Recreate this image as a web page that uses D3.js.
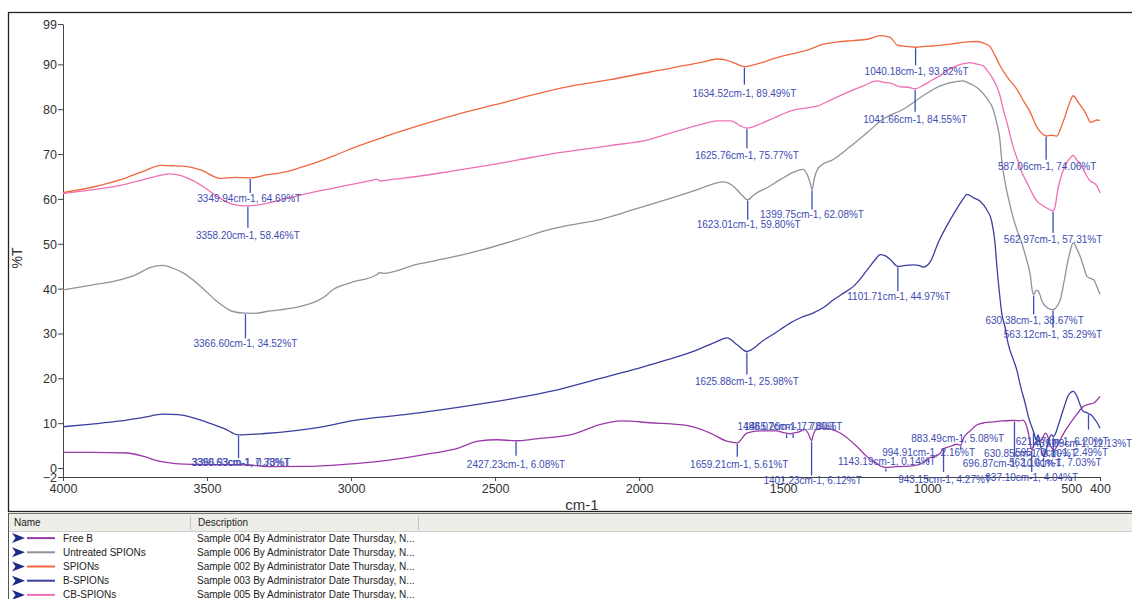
<!DOCTYPE html>
<html>
<head>
<meta charset="utf-8">
<script src="https://cdn.jsdelivr.net/npm/d3@7"></script>
<style>
  html, body { margin: 0; padding: 0; background: #fff; overflow: hidden; }
  svg { display: block; }
</style>
</head>
<body>
<svg id="chart" width="1132" height="599"></svg>
<script>
// FTIR transmittance spectra, wavenumber (cm-1) vs %T
const seriesNames = ["Free B", "Untreated SPIONs", "SPIONs", "B-SPIONs", "CB-SPIONs"];
const seriesDescriptions = [
  "Sample 004 By Administrator Date Thursday, N...",
  "Sample 006 By Administrator Date Thursday, N...",
  "Sample 002 By Administrator Date Thursday, N...",
  "Sample 003 By Administrator Date Thursday, N...",
  "Sample 005 By Administrator Date Thursday, N..."
];
const seriesColors = ["#9a3aa8", "#8e939c", "#f0683e", "#3b3f9f", "#f070b6"];

const xTicks = [4000, 3500, 3000, 2500, 2000, 1500, 1000, 500, 400];
const yTicks = [-2, 0, 10, 20, 30, 40, 50, 60, 70, 80, 90, 99];

// [wavenumber, %T]
const freeB = [[4000,3.5],[3900,3.5],[3780,3.35],[3720,2.6],[3687,1.9],[3635,1.2],[3556,0.8],[3480,0.75],[3420,0.74],[3366.93,0.73],[3288,0.3],[3155,0.35],[3024,0.8],[2889,1.6],[2757,2.9],[2625,4.5],[2559,6.0],[2491,6.3],[2427.23,6.08],[2358,6.5],[2226,7.6],[2140,9.6],[2060,10.5],[1962,10.1],[1847,9.6],[1753,7.8],[1696,6.0],[1659.21,5.61],[1626,7.8],[1580,8.3],[1522,8.3],[1499,7.9],[1488.07,7.78],[1475,7.6],[1465.26,7.80],[1447,8.0],[1424,8.6],[1412,7.6],[1401.23,6.12],[1395,7.5],[1387,8.5],[1359,8.9],[1302,7.8],[1244,4.8],[1210,2.6],[1175,1.0],[1160,0.4],[1143.19,0.14],[1110,0.3],[1080,0.35],[1050,0.5],[1020,1.0],[1005,1.6],[994.91,2.16],[975,2.6],[955,3.3],[943.15,4.27],[920,4.8],[897,5.3],[883.49,5.08],[875,6.5],[850,8.3],[828,9.6],[800,10.1],[771,10.3],[740,10.5],[712,10.6],[696.87,10.61],[680,10.5],[667,10.7],[660,10.2],[650,8.2],[643,5.8],[637.10,4.04],[630,5.0],[620,5.9],[610,6.0],[602,6.3],[590,7.8],[582,7.2],[576,5.5],[565,4.3],[559,4.0],[550,4.8],[538,6.3],[520,8.4],[503,10.0],[480,12.0],[458,13.7],[440,14.2],[422,14.5],[410,15.2],[400,16.0]];

const untreated = [[4000,39.7],[3900,40.8],[3800,42.0],[3750,43.0],[3698,44.7],[3653,45.2],[3620,44.6],[3583,43.5],[3524,40.6],[3466,37.2],[3410,34.9],[3366.60,34.52],[3330,34.5],[3293,34.9],[3201,35.7],[3150,36.5],[3119,37.2],[3090,38.3],[3062,39.8],[3003,41.3],[2911,43.1],[2900,43.6],[2889,43.4],[2772,45.4],[2650,47.0],[2542,48.7],[2420,51.0],[2309,53.2],[2220,54.4],[2135,55.4],[2020,57.6],[1903,59.9],[1800,62.0],[1708,63.8],[1674,62.9],[1645,61.0],[1623.01,59.80],[1600,61.0],[1556,62.5],[1510,64.3],[1465,65.9],[1431,66.6],[1415,65.2],[1406,63.5],[1399.75,62.08],[1392,64.5],[1385,66.0],[1372,67.3],[1326,68.8],[1270,71.5],[1208,74.8],[1153,77.8],[1083,80.0],[1014,83.0],[955,85.2],[896,86.2],[875,86.3],[861,86.0],[826,84.8],[792,82.4],[771,80.0],[757,76.5],[748,73.5],[741,68.5],[729,63.5],[712,58.5],[700,55.5],[685,52.5],[671,50.0],[655,46.5],[642,43.0],[635,39.5],[630.38,38.67],[622,39.6],[615,39.5],[600,37.0],[580,35.6],[563.12,35.29],[550,36.0],[538,37.5],[525,41.5],[515,45.0],[503,48.5],[493,50.2],[480,48.8],[469,47.2],[455,44.5],[446,42.8],[430,42.2],[422,42.0],[410,40.3],[400,38.7]];

const spions = [[4000,61.4],[3900,62.6],[3800,64.3],[3720,66.2],[3660,67.5],[3620,67.4],[3583,67.3],[3520,66.4],[3455,64.6],[3400,64.8],[3349.94,64.69],[3290,65.4],[3236,65.9],[3180,66.9],[3118,68.2],[3060,69.6],[3003,71.1],[2900,73.5],[2750,76.6],[2600,79.4],[2500,81.0],[2400,82.7],[2250,85.0],[2100,86.6],[1962,88.3],[1900,89.0],[1847,89.7],[1780,90.5],[1729,91.2],[1700,91.0],[1677,90.5],[1655,89.9],[1634.52,89.49],[1610,89.8],[1590,90.1],[1545,91.0],[1500,91.9],[1450,92.6],[1406,93.4],[1361,94.5],[1312,95.0],[1260,95.3],[1208,95.6],[1163,96.4],[1128,96.0],[1104,94.3],[1075,94.0],[1040.18,93.82],[1010,94.0],[979,94.1],[920,94.5],[861,95.0],[830,95.1],[806,94.8],[781,93.9],[765,92.0],[747,89.7],[720,87.0],[689,84.5],[665,81.8],[642,79.3],[619,76.0],[600,74.5],[587.06,74.06],[570,74.2],[550,74.0],[535,76.0],[521,78.5],[505,81.5],[493,83.0],[480,82.0],[470,81.0],[458,80.0],[445,78.5],[434,77.1],[422,77.3],[411,77.6],[400,77.5]];

const bSpions = [[4000,9.2],[3900,9.8],[3800,10.5],[3720,11.3],[3653,12.0],[3600,11.9],[3560,11.4],[3500,10.2],[3440,8.8],[3390.63,7.38],[3300,7.7],[3200,8.3],[3100,9.2],[3000,10.5],[2800,12.0],[2600,13.8],[2500,14.8],[2400,15.9],[2300,17.2],[2135,20.0],[2000,22.3],[1904,24.1],[1800,26.3],[1730,28.2],[1695,29.0],[1660,27.5],[1625.88,25.98],[1600,26.8],[1580,27.9],[1530,30.0],[1476,32.3],[1440,33.5],[1395,34.6],[1360,35.8],[1325,37.5],[1290,39.0],[1256,40.5],[1210,44.0],[1180,46.5],[1163,47.6],[1145,47.3],[1128,46.5],[1101.71,44.97],[1075,45.2],[1048,45.3],[1030,45.2],[1014,44.8],[990,45.9],[960,50.5],[932,54.0],[900,57.5],[875,60.0],[862,61.0],[840,60.3],[816,59.5],[793,57.6],[776,55.0],[765,50.5],[758,45.0],[749,39.0],[741,34.5],[730,31.5],[718,27.5],[700,24.0],[689,21.9],[675,18.0],[660,14.5],[648,11.3],[637,9.2],[630.85,8.10],[627,7.3],[621.37,6.20],[615,7.4],[608,5.5],[595.70,2.49],[585,4.5],[575,6.8],[568,7.4],[562.10,7.03],[555,7.6],[545,9.5],[525,13.5],[510,16.2],[493,17.1],[480,16.0],[470,14.3],[458,12.6],[448,12.4],[439.89,12.13],[430,11.8],[422,11.2],[411,10.2],[400,8.9]];

const cbSpions = [[4000,61.2],[3900,62.0],[3800,63.0],[3698,64.7],[3628,65.6],[3590,65.2],[3559,64.4],[3510,62.6],[3466,60.6],[3410,58.8],[3358.20,58.46],[3300,58.9],[3236,59.9],[3180,60.8],[3118,61.7],[3060,62.4],[3003,63.2],[2924,64.2],[2910,64.4],[2899,64.0],[2850,64.4],[2771,65.0],[2650,66.2],[2542,67.3],[2420,68.7],[2309,70.0],[2200,71.0],[2100,71.9],[1962,73.3],[1900,74.5],[1847,75.5],[1790,76.5],[1729,77.4],[1680,77.4],[1649,76.3],[1625.76,75.77],[1600,76.2],[1580,76.7],[1530,78.1],[1476,79.6],[1430,80.2],[1382,80.7],[1330,82.2],[1278,83.7],[1222,85.2],[1174,86.3],[1150,86.0],[1128,85.8],[1094,85.0],[1065,84.9],[1041.66,84.55],[1014,85.3],[985,86.4],[955,87.5],[925,88.8],[896,89.7],[870,90.2],[851,90.4],[830,90.1],[806,89.7],[790,88.5],[771,86.7],[755,84.5],[747,83.0],[736,80.0],[723,77.0],[701,71.5],[685,68.5],[671,65.9],[655,63.8],[642,62.1],[619,59.5],[600,58.6],[580,57.8],[562.97,57.31],[555,58.5],[548,61.5],[535,65.0],[515,68.1],[500,69.4],[493,69.7],[480,68.6],[470,68.0],[458,66.6],[445,65.0],[434,64.0],[422,63.6],[411,62.9],[400,61.3]];

const seriesData = [freeB, untreated, spions, bSpions, cbSpions];

// picked peaks: [series index, wavenumber, %T]
const peaks = [
  [2, 3349.94, 64.69], [4, 3358.20, 58.46], [1, 3366.60, 34.52],
  [2, 1634.52, 89.49], [2, 1040.18, 93.82], [4, 1041.66, 84.55],
  [4, 1625.76, 75.77], [1, 1623.01, 59.80], [1, 1399.75, 62.08],
  [3, 1625.88, 25.98], [3, 1101.71, 44.97], [2, 587.06, 74.06],
  [4, 562.97, 57.31], [1, 630.38, 38.67], [1, 563.12, 35.29],
  [0, 2427.23, 6.08], [3, 3390.63, 7.38], [0, 3366.93, 0.73],
  [0, 1659.21, 5.61], [0, 1401.23, 6.12], [0, 1488.07, 7.78],
  [0, 1465.26, 7.80], [0, 1143.19, 0.14], [0, 994.91, 2.16],
  [0, 943.15, 4.27], [0, 883.49, 5.08], [0, 696.87, 10.61],
  [0, 637.10, 4.04], [3, 630.85, 8.10], [3, 621.37, 6.20],
  [3, 595.70, 2.49], [3, 562.10, 7.03], [3, 439.89, 12.13]
];
// marker line length, label x shift, label y shift (px), one per peak
const peakPlacement = [
  [15, -1, 21], [22, 0, 30], [25, 0, 30],
  [18, 0, 26.6], [18, 1, 24.5], [23, 0, 30.5],
  [20, 0, 27], [20, 1, 25], [20, 0, 25],
  [23, 0, 29.5], [25, 1, 30], [24, 1, 31],
  [22, 0, 29], [20, 1, 25.5], [18, 0, 24.5],
  [15, 0, 24], [23, 2, 28], [0, -4, -2],
  [14, 2, 22], [35, 1, 40], [5, 0, -6.5],
  [5, 0, -6.5], [4, 1, -5.5], [4, 0, -5.7],
  [23, 1, 30.8], [4, -3, -7], [37, -2.5, 42.6],
  [22, 0, 28], [16, -3, 21.3], [3, 26, 1.5],
  [3, 18, -4], [21, 2, 26.5], [16, -5.5, 29.4]
];

const svg = d3.select("#chart");
const x = d3.scaleLinear().domain([4000, 400]).range([63, 1100]);
const y = d3.scaleLinear().domain([-2, 99]).range([477, 24]);

// panel frame
svg.append("rect").attr("x", 8.5).attr("y", 12.5).attr("width", 1140).attr("height", 499)
  .attr("fill", "#fff").attr("stroke", "#222").attr("stroke-width", 1.3);

// axes
const axisFont = "Liberation Sans, Arial, sans-serif";
const gy = svg.append("g").attr("transform", "translate(63,0)")
  .call(d3.axisLeft(y).tickValues(yTicks).tickFormat(d3.format("d"))
    .tickSize(5).tickPadding(1).tickSizeOuter(0));
const gx = svg.append("g").attr("transform", "translate(0,477)")
  .call(d3.axisBottom(x).tickValues(xTicks).tickFormat(d3.format("d"))
    .tickSize(4).tickPadding(3).tickSizeOuter(0));
[gx, gy].forEach(g => {
  g.selectAll("path, line").attr("stroke", "#444");
  g.selectAll("text").attr("fill", "#333").style("font-family", axisFont).style("font-size", "12.5px");
});
gy.selectAll(".tick text").attr("dy", "0.36em");

svg.append("text").attr("transform", "translate(22,258) rotate(-90)")
  .attr("text-anchor", "middle").attr("fill", "#333")
  .style("font-family", axisFont).style("font-size", "14px").text("%T");
svg.append("text").attr("x", 582).attr("y", 510)
  .attr("text-anchor", "middle").attr("fill", "#333")
  .style("font-family", axisFont).style("font-size", "15px").text("cm-1");

// spectra
const line = d3.line().x(d => x(d[0])).y(d => y(d[1])).curve(d3.curveMonotoneX);
svg.append("g").selectAll("path").data(seriesData).join("path")
  .attr("d", line).attr("fill", "none")
  .attr("stroke", (d, i) => seriesColors[i]).attr("stroke-width", 1.3)
  .attr("stroke-linejoin", "round");

// peak markers and labels
const peakColor = "#3e4cb3";
const pg = svg.append("g");
peaks.forEach((p, i) => {
  const [len, dx, dy] = peakPlacement[i];
  const px = x(p[1]), py = y(p[2]);
  if (len > 0) {
    pg.append("line").attr("x1", px).attr("x2", px).attr("y1", py + 1).attr("y2", py + len)
      .attr("stroke", peakColor).attr("stroke-width", 1.3);
  }
  pg.append("text").attr("x", px + dx).attr("y", py + dy)
    .attr("text-anchor", "middle").attr("dominant-baseline", "central")
    .attr("fill", peakColor)
    .style("font-family", axisFont).style("font-size", "10px")
    .text(`${p[1].toFixed(2)}cm-1, ${p[2].toFixed(2)}%T`);
});

// sample list below the plot
const list = svg.append("g");
list.append("rect").attr("x", 0).attr("y", 513).attr("width", 1132).attr("height", 86).attr("fill", "#fff");
list.append("rect").attr("x", 8).attr("y", 514).attr("width", 1124).attr("height", 17).attr("fill", "#eeede8");
list.append("line").attr("x1", 8).attr("x2", 1132).attr("y1", 531.5).attr("y2", 531.5).attr("stroke", "#cfcfcf");
list.append("line").attr("x1", 8).attr("x2", 1132).attr("y1", 513.5).attr("y2", 513.5).attr("stroke", "#777");
list.append("line").attr("x1", 8.5).attr("x2", 8.5).attr("y1", 513).attr("y2", 599).attr("stroke", "#555");
[190.5, 418.5].forEach(cx => list.append("line").attr("x1", cx).attr("x2", cx)
  .attr("y1", 516).attr("y2", 530).attr("stroke", "#c4c4c4"));
const listFont = "Liberation Sans, Arial, sans-serif";
list.append("text").attr("x", 14).attr("y", 526).attr("fill", "#222")
  .style("font-family", listFont).style("font-size", "10px").text("Name");
list.append("text").attr("x", 198).attr("y", 526).attr("fill", "#222")
  .style("font-family", listFont).style("font-size", "10px").text("Description");

const rowY = d3.scaleBand().domain(d3.range(seriesNames.length)).range([531, 602]);
seriesNames.forEach((name, i) => {
  const cy = rowY(i) + rowY.bandwidth() / 2;
  list.append("path")
    .attr("d", `M12,${cy - 5} L25,${cy} L12,${cy + 5} L15.5,${cy} Z`)
    .attr("fill", "#1d2a86");
  list.append("line").attr("x1", 27).attr("x2", 55).attr("y1", cy).attr("y2", cy)
    .attr("stroke", seriesColors[i]).attr("stroke-width", 2);
  list.append("text").attr("x", 63).attr("y", cy).attr("dominant-baseline", "central")
    .attr("fill", "#222").style("font-family", listFont).style("font-size", "10px").text(name);
  list.append("text").attr("x", 197).attr("y", cy).attr("dominant-baseline", "central")
    .attr("fill", "#222").style("font-family", listFont).style("font-size", "10px")
    .text(seriesDescriptions[i]);
});
</script>
</body>
</html>
